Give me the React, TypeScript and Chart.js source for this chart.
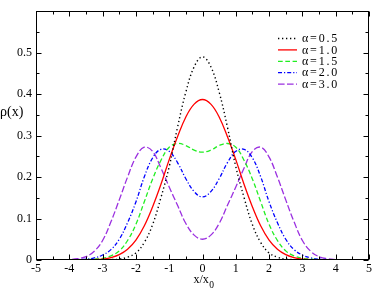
import { useEffect, useRef } from 'react';
import { Chart, registerables } from 'chart.js';

Chart.register(...registerables);

const X_VALUES = [
  -5, -4.75, -4.5, -4.25, -4, -3.75, -3.5, -3.25, -3, -2.75, -2.5, -2.25, -2, -1.75, -1.5, -1.25, -1, -0.75, -0.5, -0.25,
  0,
  0.25, 0.5, 0.75, 1, 1.25, 1.5, 1.75, 2, 2.25, 2.5, 2.75, 3, 3.25, 3.5, 3.75, 4, 4.25, 4.5, 4.75, 5,
];

const RHO_A05 = [
  0, 0, 0, 0, 0, 0, 0, 0, 0, 0.001, 0.002, 0.007, 0.017, 0.042, 0.085, 0.150, 0.225, 0.320, 0.405, 0.466,
  0.490,
  0.466, 0.405, 0.320, 0.225, 0.150, 0.085, 0.042, 0.017, 0.007, 0.002, 0.001, 0, 0, 0, 0, 0, 0, 0, 0, 0,
];

const RHO_A10 = [
  0, 0, 0, 0, 0, 0, 0, 0.001, 0.002, 0.006, 0.013, 0.026, 0.048, 0.082, 0.128, 0.182, 0.242, 0.297, 0.345, 0.376,
  0.387,
  0.376, 0.345, 0.297, 0.242, 0.182, 0.128, 0.082, 0.048, 0.026, 0.013, 0.006, 0.002, 0.001, 0, 0, 0, 0, 0, 0, 0,
];

const RHO_A15 = [
  0, 0, 0, 0, 0, 0, 0.001, 0.002, 0.004, 0.010, 0.022, 0.047, 0.086, 0.140, 0.195, 0.240, 0.272, 0.281, 0.276, 0.265,
  0.260,
  0.265, 0.276, 0.281, 0.272, 0.240, 0.195, 0.140, 0.086, 0.047, 0.022, 0.010, 0.004, 0.002, 0.001, 0, 0, 0, 0, 0, 0,
];

const RHO_A20 = [
  0, 0, 0, 0, 0, 0.001, 0.002, 0.005, 0.012, 0.025, 0.050, 0.090, 0.140, 0.200, 0.246, 0.267, 0.262, 0.235, 0.196, 0.165,
  0.152,
  0.165, 0.196, 0.235, 0.262, 0.267, 0.246, 0.200, 0.140, 0.090, 0.050, 0.025, 0.012, 0.005, 0.002, 0.001, 0, 0, 0, 0, 0,
];

const RHO_A30 = [
  0, 0, 0, 0, 0.001, 0.003, 0.008, 0.021, 0.047, 0.092, 0.145, 0.200, 0.248, 0.272, 0.262, 0.222, 0.176, 0.132, 0.088, 0.060,
  0.050,
  0.060, 0.088, 0.132, 0.176, 0.222, 0.262, 0.272, 0.248, 0.200, 0.145, 0.092, 0.047, 0.021, 0.008, 0.003, 0.001, 0, 0, 0, 0,
];

const SERIES_LABELS = ['α=0.5', 'α=1.0', 'α=1.5', 'α=2.0', 'α=3.0'];
const SERIES_VALUES = [RHO_A05, RHO_A10, RHO_A15, RHO_A20, RHO_A30];
const SERIES_COLORS = ['#000000', '#ff0000', '#22ee22', '#0000ff', '#9b30e0'];
const SERIES_DASHES = [[1.3, 2.7], [], [4.7, 2.6], [4, 2, 1.2, 2], [6.6, 2.4]];
const SERIES_WIDTHS = [1.4, 1.3, 1.3, 1.3, 1.3];

const X_MAJOR = [-5, -4, -3, -2, -1, 0, 1, 2, 3, 4, 5];
const X_MINOR = [-4.5, -3.5, -2.5, -1.5, -0.5, 0.5, 1.5, 2.5, 3.5, 4.5];
const Y_MAJOR = [0, 0.1, 0.2, 0.3, 0.4, 0.5, 0.6];
const Y_MINOR = [0.05, 0.15, 0.25, 0.35, 0.45, 0.55];

const SERIF = '"Liberation Serif", "DejaVu Serif", serif';

const framePlugin = {
  id: 'frameTicksLegend',
  afterDraw(chart: any) {
    const { ctx, chartArea: a, scales } = chart;
    const xs = scales.x;
    const ys = scales.y;
    const L = Math.round(a.left) + 0.5;
    const R = Math.round(a.right) - 0.5;
    const T = Math.round(a.top) + 0.5;
    const B = Math.round(a.bottom) - 0.5;
    ctx.save();
    ctx.strokeStyle = '#000';
    ctx.lineWidth = 1;
    ctx.setLineDash([]);
    ctx.strokeRect(L, T, R - L, B - T);

    const majorLen = 5;
    const minorLen = 3;
    ctx.beginPath();
    const xTick = (v: number, len: number) => {
      const px = Math.round(xs.getPixelForValue(v)) + 0.5;
      ctx.moveTo(px, B);
      ctx.lineTo(px, B - len);
      ctx.moveTo(px, T);
      ctx.lineTo(px, T + len);
    };
    const yTick = (v: number, len: number) => {
      const py = Math.round(ys.getPixelForValue(v)) + 0.5;
      ctx.moveTo(L, py);
      ctx.lineTo(L + len, py);
      ctx.moveTo(R, py);
      ctx.lineTo(R - len, py);
    };
    X_MAJOR.forEach((v) => xTick(v, majorLen));
    X_MINOR.forEach((v) => xTick(v, minorLen));
    Y_MAJOR.forEach((v) => yTick(v, majorLen));
    Y_MINOR.forEach((v) => yTick(v, minorLen));
    ctx.stroke();

    // axis titles
    ctx.fillStyle = '#000';
    ctx.textAlign = 'left';
    ctx.textBaseline = 'alphabetic';
    ctx.font = `14px ${SERIF}`;
    ctx.fillText('ρ(x)', 0, 116);
    ctx.font = `12px ${SERIF}`;
    const cx = xs.getPixelForValue(0);
    ctx.fillText('x/x', cx - 9, 283);
    const w = ctx.measureText('x/x').width;
    ctx.font = `9.5px ${SERIF}`;
    ctx.fillText('0', cx - 9 + w + 0.5, 288);

    // legend
    chart.data.datasets.forEach((ds: any, i: number) => {
      const y = 38.5 + i * 11.4;
      ctx.beginPath();
      ctx.strokeStyle = ds.borderColor;
      ctx.lineWidth = ds.borderWidth;
      ctx.setLineDash(ds.borderDash || []);
      ctx.moveTo(278, y);
      ctx.lineTo(297, y);
      ctx.stroke();
      ctx.setLineDash([]);
      ctx.fillStyle = '#000';
      ctx.font = `12px ${SERIF}`;
      (ctx as any).letterSpacing = '1.8px';
      ctx.textBaseline = 'middle';
      ctx.fillText(ds.label, 302, y + 0.5);
      (ctx as any).letterSpacing = '0px';
    });
    ctx.restore();
  },
};

export default function App() {
  const ref = useRef<HTMLCanvasElement | null>(null);

  useEffect(() => {
    document.body.style.margin = '0';
    const canvas = ref.current;
    if (!canvas) return;
    const chart = new Chart(canvas, {
      type: 'line',
      data: {
        datasets: SERIES_VALUES.map((vals, i) => ({
          label: SERIES_LABELS[i],
          data: X_VALUES.map((x, j) => ({ x, y: vals[j] })),
          borderColor: SERIES_COLORS[i],
          backgroundColor: SERIES_COLORS[i],
          borderDash: SERIES_DASHES[i],
          borderWidth: SERIES_WIDTHS[i],
          pointRadius: 0,
          fill: false,
          tension: 0.4,
        })),
      },
      options: {
        responsive: false,
        animation: false,
        events: [],
        layout: { padding: { top: 1, right: 4, left: 0, bottom: 0 } },
        plugins: {
          legend: { display: false },
          tooltip: { enabled: false },
          title: { display: false },
        },
        scales: {
          x: {
            type: 'linear',
            min: -5,
            max: 5,
            grid: { display: false, drawTicks: false },
            border: { display: false },
            ticks: {
              stepSize: 1,
              color: '#000',
              padding: 2,
              maxRotation: 0,
              autoSkip: false,
              font: { family: SERIF, size: 12 },
              callback: (v: any) => String(v),
            },
            afterFit: (s: any) => {
              s.height = 30;
            },
          },
          y: {
            type: 'linear',
            min: 0,
            max: 0.6,
            grid: { display: false, drawTicks: false },
            border: { display: false },
            ticks: {
              stepSize: 0.1,
              color: '#000',
              padding: 4,
              autoSkip: false,
              font: { family: SERIF, size: 12 },
              callback: (v: any) => (v > 0.55 ? '' : String(Math.round(Number(v) * 10) / 10)),
            },
            afterFit: (s: any) => {
              s.width = 36;
            },
          },
        },
      },
      plugins: [framePlugin],
    });
    return () => chart.destroy();
  }, []);

  return (
    <div style={{ width: 374, height: 290, background: '#fff' }}>
      <canvas ref={ref} width={374} height={290} style={{ display: 'block', width: 374, height: 290 }} />
    </div>
  );
}
